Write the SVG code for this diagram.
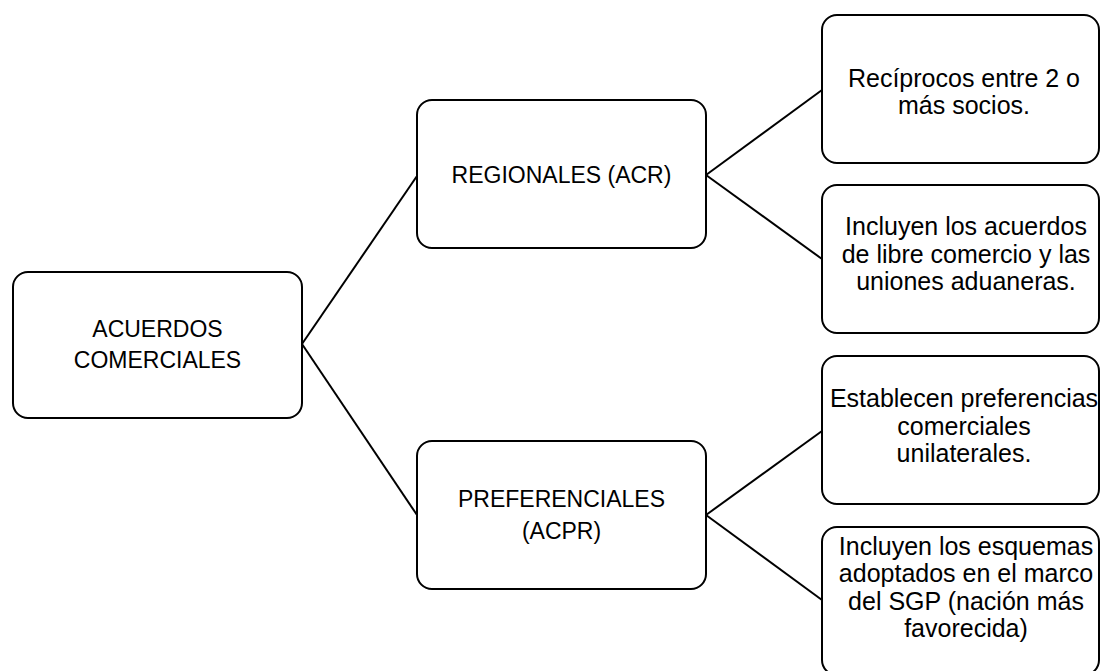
<svg xmlns="http://www.w3.org/2000/svg" width="1101" height="671" viewBox="0 0 1101 671">
<style>
.box{fill:#fff;stroke:#000;stroke-width:2}
.con{stroke:#000;stroke-width:2;fill:none}
text{font-family:"Liberation Sans",Arial,sans-serif;font-size:25px;fill:#000;text-anchor:middle}
text.cap{font-size:23px}
</style>
<rect width="1101" height="671" fill="#fff"/>
<g id="connectors">
<line class="con" x1="302" y1="344" x2="417" y2="176"/>
<line class="con" x1="302" y1="344" x2="417" y2="515"/>
<line class="con" x1="706" y1="175" x2="822" y2="90"/>
<line class="con" x1="706" y1="175" x2="822" y2="259"/>
<line class="con" x1="706" y1="515" x2="822" y2="431"/>
<line class="con" x1="706" y1="515" x2="822" y2="600"/>
</g>
<g id="acuerdos">
<rect class="box" x="13" y="272" width="289" height="146" rx="15"/>
<text class="cap" x="157.5" y="337">ACUERDOS</text>
<text class="cap" x="157.5" y="368">COMERCIALES</text>
</g>
<g id="regionales">
<rect class="box" x="417" y="100" width="289" height="148" rx="15"/>
<text class="cap" x="561.5" y="183">REGIONALES (ACR)</text>
</g>
<g id="preferenciales">
<rect class="box" x="417" y="441" width="289" height="148" rx="15"/>
<text class="cap" x="561.5" y="507">PREFERENCIALES</text>
<text class="cap" x="561.5" y="539">(ACPR)</text>
</g>
<g id="reciprocos">
<rect class="box" x="822" y="15" width="277" height="148" rx="15"/>
<text x="964" y="87">Recíprocos entre 2 o</text>
<text x="964" y="114">más socios.</text>
</g>
<g id="incluyen-acuerdos">
<rect class="box" x="822" y="185" width="277" height="148" rx="15"/>
<text x="966" y="235">Incluyen los acuerdos</text>
<text x="966" y="263">de libre comercio y las</text>
<text x="966" y="290">uniones aduaneras.</text>
</g>
<g id="establecen">
<rect class="box" x="822" y="356" width="277" height="148" rx="15"/>
<text x="964" y="407">Establecen preferencias</text>
<text x="964" y="435">comerciales</text>
<text x="964" y="462">unilaterales.</text>
</g>
<g id="incluyen-esquemas">
<rect class="box" x="822" y="527" width="277" height="148" rx="15"/>
<text x="966" y="555">Incluyen los esquemas</text>
<text x="966" y="582">adoptados en el marco</text>
<text x="966" y="610">del SGP (nación más</text>
<text x="966" y="637">favorecida)</text>
</g>
</svg>
